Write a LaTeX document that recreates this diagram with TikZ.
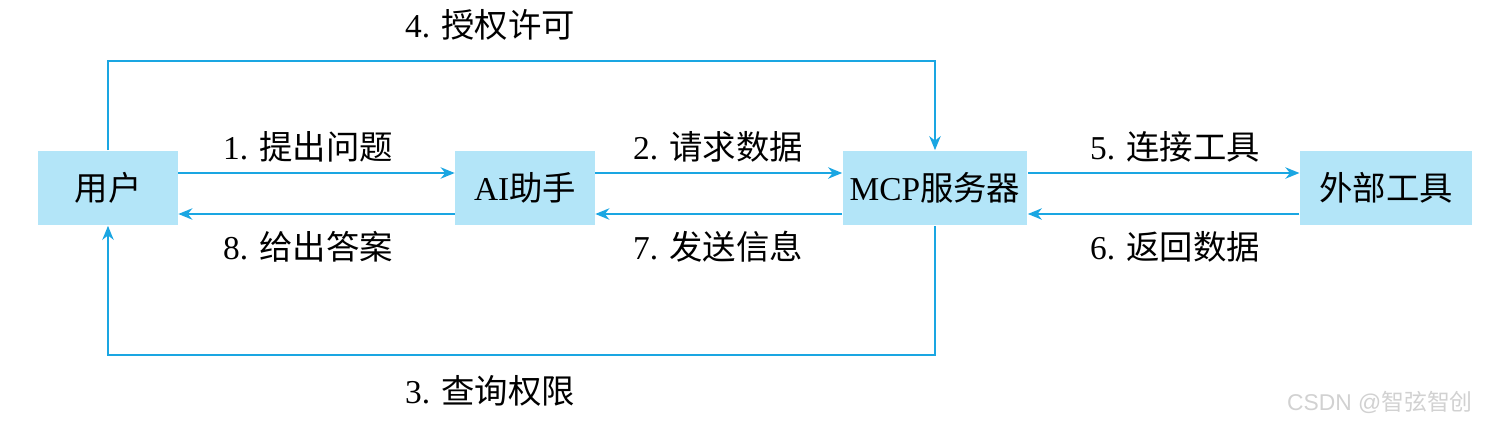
\documentclass[tikz,border=0pt]{standalone}
\usepackage{fontspec}
\setmainfont{Liberation Serif}
\newfontfamily\zh{Noto Sans CJK SC}
\newfontfamily\wmfont{Liberation Sans}
\usetikzlibrary{arrows.meta}
\definecolor{boxblue}{HTML}{B3E5F8}
\definecolor{linkblue}{HTML}{1AA6E2}
\begin{document}
\begin{tikzpicture}[x=0.02cm, y=-0.02cm,
		box/.style={fill=boxblue, minimum height=1.5cm, inner sep=0pt, font=\fontsize{19}{22}\selectfont},
		lbl/.style={font=\fontsize{19}{22}\selectfont},
		link/.style={draw=linkblue, line width=1pt, -{Stealth[length=8pt, width=6.5pt]}}]
		\useasboundingbox (0,0) rectangle (1502,427);

		\node[box, minimum width=2.8cm] (user) at (108,188) {\zh 用户};
		\node[box, minimum width=2.8cm] (ai) at (525,188) {AI\zh 助手};
		\node[box, minimum width=3.7cm] (mcp) at (935,188) {MCP\zh 服务器};
		\node[box, minimum width=3.45cm] (tool) at (1386,188) {\zh 外部工具};

		\coordinate (tl) at (108,61);
		\coordinate (tr) at (935,61);
		\coordinate (bl) at (108,355);
		\coordinate (br) at (935,355);

		\draw[link] ([yshift=0.3cm]user.east) -- ([yshift=0.3cm]ai.west);
		\draw[link] ([yshift=-0.52cm]ai.west) -- ([yshift=-0.52cm]user.east);
		\draw[link] ([yshift=0.3cm]ai.east) -- ([yshift=0.3cm]mcp.west);
		\draw[link] ([yshift=-0.52cm]mcp.west) -- ([yshift=-0.52cm]ai.east);
		\draw[link] ([yshift=0.3cm]mcp.east) -- ([yshift=0.3cm]tool.west);
		\draw[link] ([yshift=-0.52cm]tool.west) -- ([yshift=-0.52cm]mcp.east);
		\draw[link] (user.north) -- (tl) -- (tr) -- (mcp.north);
		\draw[link] (mcp.south) -- (br) -- (bl) -- (user.south);

		\node[lbl] (l1) at (308,147) {1. {\zh 提出问题}};
		\node[lbl] (l8) at (308,247) {8. {\zh 给出答案}};
		\node[lbl] (l2) at (718,147) {2. {\zh 请求数据}};
		\node[lbl] (l7) at (718,247) {7. {\zh 发送信息}};
		\node[lbl] (l5) at (1175,147) {5. {\zh 连接工具}};
		\node[lbl] (l6) at (1175,247) {6. {\zh 返回数据}};
		\node[lbl] (l4) at (490,25) {4. {\zh 授权许可}};
		\node[lbl] (l3) at (490,391) {3. {\zh 查询权限}};

		\node[text=black!18, font=\fontsize{13}{15}\selectfont] (wm) at (1380,402) {\wmfont CSDN @{\zh 智弦智创}};
	\end{tikzpicture}
\end{document}
